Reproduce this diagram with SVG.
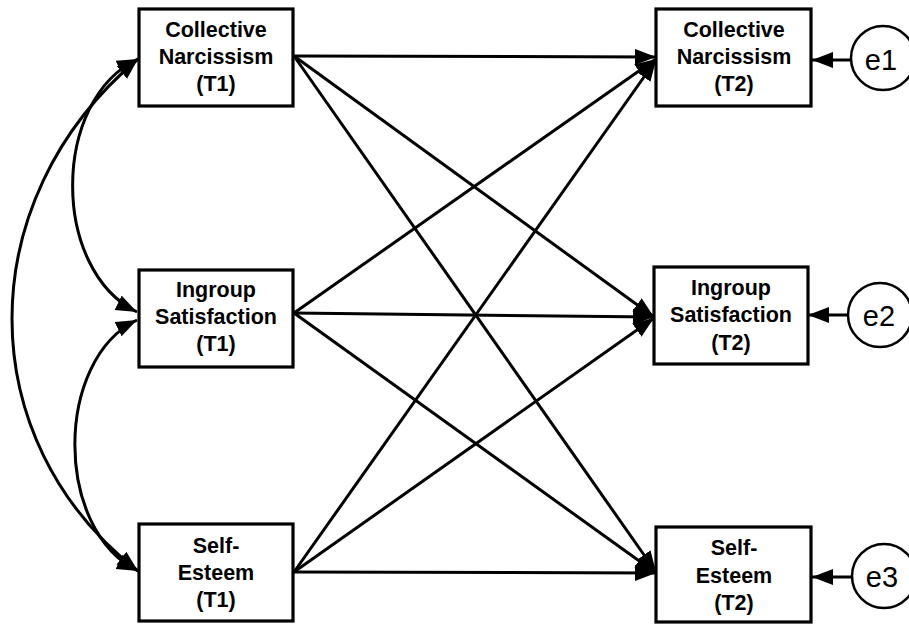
<svg xmlns="http://www.w3.org/2000/svg" width="909" height="624" viewBox="0 0 909 624">
<style>
.box{fill:#fff;stroke:#000;stroke-width:3.2}
.lbl{font-family:"Liberation Sans",Arial,sans-serif;font-weight:bold;font-size:21.5px;text-anchor:middle;fill:#000}
.err{font-family:"Liberation Sans",Arial,sans-serif;font-size:29px;text-anchor:middle;fill:#000}
.ln{fill:none;stroke:#000;stroke-width:3}
</style>
<defs>
<marker id="ah" markerUnits="userSpaceOnUse" markerWidth="24" markerHeight="18" refX="21" refY="8" orient="auto-start-reverse" viewBox="0 0 24 18">
<path d="M0,0 L21,8 L0,16 Z" fill="#000"/>
</marker>
</defs>
<rect width="909" height="624" fill="#fff"/>
<g id="connectors">
<path class="ln" d="M294,56 L656,57" marker-end="url(#ah)"/>
<path class="ln" d="M294,56 L654,317" marker-end="url(#ah)"/>
<path class="ln" d="M294,56 L656,572" marker-end="url(#ah)"/>
<path class="ln" d="M294,313 L656,59" marker-end="url(#ah)"/>
<path class="ln" d="M294,313 L654,317" marker-end="url(#ah)"/>
<path class="ln" d="M294,313 L656,573" marker-end="url(#ah)"/>
<path class="ln" d="M294,572 L656,60" marker-end="url(#ah)"/>
<path class="ln" d="M294,572 L654,318" marker-end="url(#ah)"/>
<path class="ln" d="M294,572 L656,573" marker-end="url(#ah)"/>
<path class="ln" d="M850,60 L812,60" marker-end="url(#ah)"/>
<path class="ln" d="M848,315 L808,315" marker-end="url(#ah)"/>
<path class="ln" d="M851,577 L812,577" marker-end="url(#ah)"/>
<path class="ln" d="M138,59 C-30,200 -30,440 138,571" marker-start="url(#ah)" marker-end="url(#ah)"/>
<path class="ln" d="M138,59 C51,100 51,270 137,312" marker-start="url(#ah)" marker-end="url(#ah)"/>
<path class="ln" d="M137,320 C54,360 54,530 138,571" marker-start="url(#ah)" marker-end="url(#ah)"/>
</g>
<g id="cn1">
<rect class="box" x="139" y="9" width="154" height="97"/>
<text class="lbl" x="216" y="37">Collective</text>
<text class="lbl" x="216" y="64">Narcissism</text>
<text class="lbl" x="216" y="91">(T1)</text>
</g>
<g id="is1">
<rect class="box" x="139" y="270" width="154" height="97"/>
<text class="lbl" x="216" y="297">Ingroup</text>
<text class="lbl" x="216" y="324">Satisfaction</text>
<text class="lbl" x="216" y="351">(T1)</text>
</g>
<g id="se1">
<rect class="box" x="139" y="524" width="154" height="97"/>
<text class="lbl" x="216" y="553">Self-</text>
<text class="lbl" x="216" y="580">Esteem</text>
<text class="lbl" x="216" y="607">(T1)</text>
</g>
<g id="cn2">
<rect class="box" x="656" y="9" width="155" height="97"/>
<text class="lbl" x="734" y="37">Collective</text>
<text class="lbl" x="734" y="64">Narcissism</text>
<text class="lbl" x="734" y="91">(T2)</text>
</g>
<g id="is2">
<rect class="box" x="654" y="267" width="154" height="97"/>
<text class="lbl" x="731" y="295">Ingroup</text>
<text class="lbl" x="731" y="322">Satisfaction</text>
<text class="lbl" x="731" y="350">(T2)</text>
</g>
<g id="se2">
<rect class="box" x="656" y="527" width="155" height="95"/>
<text class="lbl" x="734" y="555">Self-</text>
<text class="lbl" x="734" y="583">Esteem</text>
<text class="lbl" x="734" y="610">(T2)</text>
</g>
<g id="e1">
<circle cx="883" cy="58" r="32" fill="#fff" stroke="#000" stroke-width="2.5"/>
<text class="err" x="881" y="70">e1</text>
</g>
<g id="e2">
<circle cx="880" cy="315" r="32" fill="#fff" stroke="#000" stroke-width="2.5"/>
<text class="err" x="879" y="326">e2</text>
</g>
<g id="e3">
<circle cx="884" cy="576" r="32" fill="#fff" stroke="#000" stroke-width="2.5"/>
<text class="err" x="882" y="587">e3</text>
</g>
</svg>
